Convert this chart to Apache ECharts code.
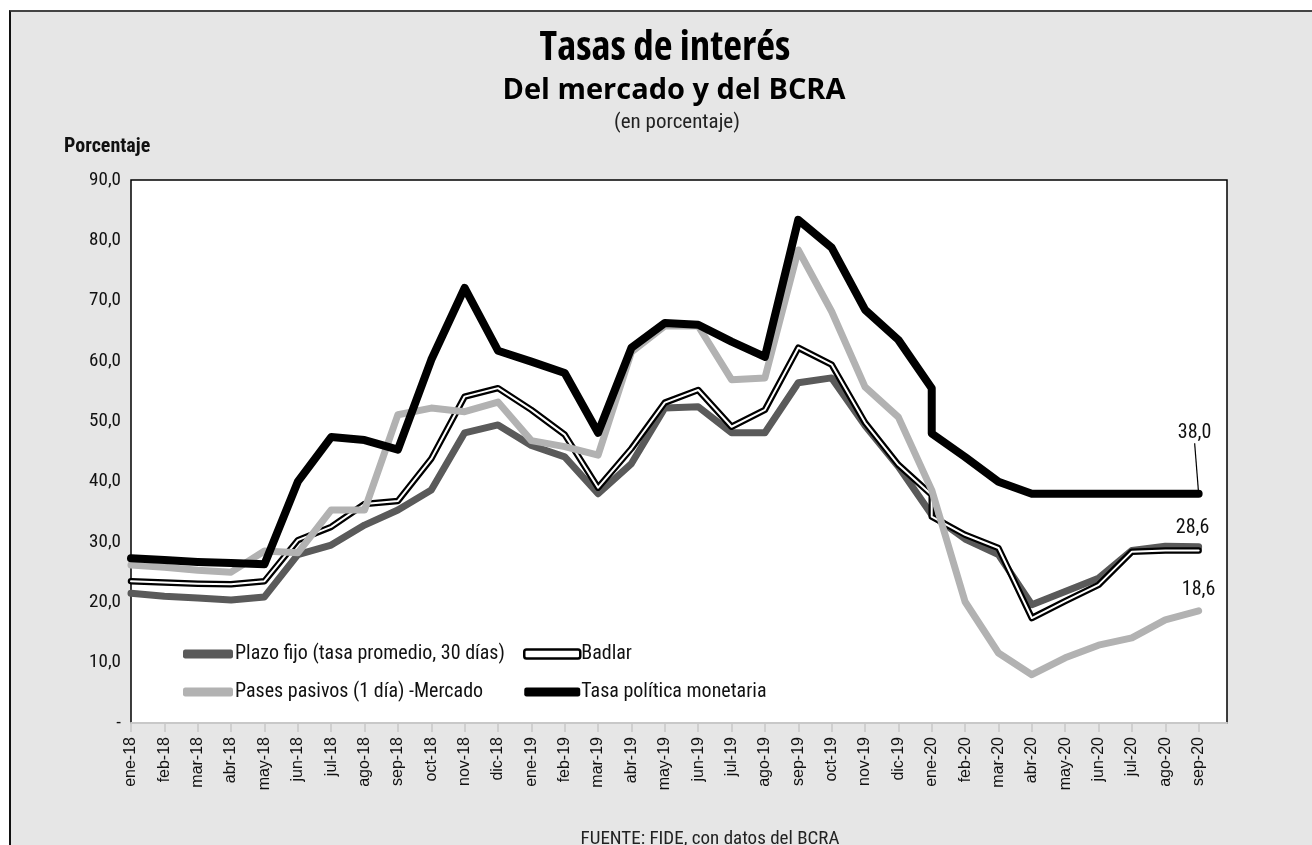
<!DOCTYPE html>
<html>
<head>
<meta charset="utf-8">
<script src="https://cdn.jsdelivr.net/npm/echarts@6/dist/echarts.min.js"></script>
<style>
html,body{margin:0;padding:0;background:#fff;width:1312px;height:845px;overflow:hidden;}
#panel{position:absolute;left:9px;top:10px;width:1303px;height:835px;background:#e6e6e6;border-top:2px solid #444;border-left:2px solid #111;}
#chart{position:absolute;left:0;top:0;width:1312px;height:845px;}
</style>
</head>
<body>
<div id="panel"></div>
<div id="chart"></div>
<script>
const months = ['ene-18','feb-18','mar-18','abr-18','may-18','jun-18','jul-18','ago-18','sep-18','oct-18','nov-18','dic-18',
  'ene-19','feb-19','mar-19','abr-19','may-19','jun-19','jul-19','ago-19','sep-19','oct-19','nov-19','dic-19',
  'ene-20','feb-20','mar-20','abr-20','may-20','jun-20','jul-20','ago-20','sep-20'];

const plazoFijo = [21.5,21.0,20.7,20.4,20.9,27.9,29.5,32.8,35.3,38.6,48.1,49.4,
  46.0,44.1,38.0,43.0,52.2,52.4,48.1,48.1,56.4,57.2,49.3,42.5,
  34.5,30.5,27.9,19.6,21.8,24.0,28.6,29.3,29.2];

const badlar = [23.5,23.3,23.1,23.0,23.5,30.3,32.5,36.3,36.8,43.8,54.1,55.5,
  51.9,47.8,39.0,45.5,53.1,55.2,49.1,51.9,62.2,59.4,49.8,42.8,
  34.2,31.2,29.0,17.4,20.2,22.9,28.4,28.6,28.6];
const badlarEne20Inicio = 37.8;

const pasesPasivos = [26.2,25.8,25.3,25.0,28.5,28.2,35.3,35.3,51.1,52.2,51.6,53.2,
  46.8,45.8,44.4,61.5,65.8,65.8,56.9,57.2,78.4,68.2,55.7,50.7,
  38.6,20.1,11.6,8.0,10.8,12.9,14.1,17.1,18.6];

const tasaPolitica = [27.3,27.0,26.7,26.5,26.3,40.0,47.4,46.9,45.3,60.2,72.1,61.7,
  59.9,58.0,48.1,62.2,66.3,66.0,63.2,60.7,83.4,78.8,68.5,63.5,
  48.0,44.1,40.0,38.0,38.0,38.0,38.0,38.0,38.0];
const tasaEne20Inicio = 55.5;

const ene20 = months.indexOf('ene-20');

const NARROW = '"Roboto Condensed","Liberation Sans",sans-serif';
const TITLE = '"Open Sans","DejaVu Sans",sans-serif';
const WIDE = '"Liberation Sans",Arial,sans-serif';

function fmt(v){ return v.toFixed(1).replace('.', ','); }

function build(values, extraAtEne20, lastLabel){
  const out = [];
  values.forEach((v, i) => {
    if (i === ene20 && extraAtEne20 !== undefined) out.push([i, extraAtEne20]);
    out.push([i, v]);
  });
  if (lastLabel) {
    const last = out[out.length - 1];
    out[out.length - 1] = {value: last, symbol: 'circle', symbolSize: 1, label: Object.assign({show: true}, lastLabel)};
  }
  return out;
}

const labelText = {fontFamily: NARROW, fontSize: 20, color: '#111', formatter: p => fmt(p.value[1])};

const chart = echarts.init(document.getElementById('chart'), null, {renderer: 'canvas'});
chart.setOption({
  backgroundColor: 'transparent',
  animation: false,
  title: [
    {text: 'Tasas de interés', left: 660, top: 23, textAlign: 'center',
     textStyle: {fontFamily: TITLE, fontStyle: 'condensed', fontWeight: 'bold', fontSize: 41, color: '#000'}},
    {text: 'Del mercado y del BCRA', left: 669, top: 71, textAlign: 'center',
     textStyle: {fontFamily: TITLE, fontWeight: 'bold', fontSize: 29, color: '#000'}},
    {text: '(en porcentaje)', left: 672, top: 107, textAlign: 'center',
     textStyle: {fontFamily: NARROW, fontWeight: 'normal', fontSize: 21, color: '#222'}},
    {text: 'Porcentaje', left: 59, top: 132,
     textStyle: {fontFamily: NARROW, fontWeight: 'bold', fontSize: 20, color: '#111'}},
    {text: 'FUENTE: FIDE, con datos del BCRA', left: 705, top: 825, textAlign: 'center',
     textStyle: {fontFamily: NARROW, fontWeight: 'normal', fontSize: 19, color: '#222'}}
  ],
  legend: [
    {orient: 'vertical', left: 178, top: 639, itemWidth: 50, itemHeight: 9, itemGap: 18,
     icon: 'roundRect', textStyle: {fontFamily: NARROW, fontSize: 20, color: '#111', padding: [0,0,0,-3]},
     data: [{name: 'Plazo fijo (tasa promedio, 30 días)', itemStyle: {color: '#5a5a5a'}},
            {name: 'Pases pasivos (1 día) -Mercado', itemStyle: {color: '#b2b2b2'}}]},
    {orient: 'vertical', left: 518, top: 639, itemWidth: 56, itemHeight: 9, itemGap: 18,
     icon: 'roundRect', textStyle: {fontFamily: NARROW, fontSize: 20, color: '#111', padding: [0,0,0,-4]},
     data: [{name: 'Badlar', itemStyle: {color: '#fff', borderColor: '#000', borderWidth: 2.5}},
            {name: 'Tasa política monetaria', itemStyle: {color: '#000'}}]}
  ],
  grid: {left: 131, right: 85, top: 180, bottom: 122, show: true, backgroundColor: '#fff', borderColor: '#000', borderWidth: 1.5},
  xAxis: {
    type: 'value', min: 0, max: 32.85,
    axisLine: {show: true, lineStyle: {color: '#c8c8c8', width: 2}},
    axisTick: {show: true, length: 9, lineStyle: {color: '#c8c8c8', width: 1.5}, customValues: months.map((m, i) => i)},
    axisLabel: {rotate: 90, margin: 14, fontFamily: WIDE, fontSize: 16, color: '#111',
      customValues: months.map((m, i) => i), formatter: v => months[v] || ''},
    splitLine: {show: false}
  },
  yAxis: {
    type: 'value', min: 0, max: 90, interval: 10,
    axisLine: {show: false}, axisTick: {show: false}, splitLine: {show: false},
    axisLabel: {margin: 10, fontFamily: NARROW, fontSize: 19, color: '#111',
      formatter: v => v === 0 ? '-' : fmt(v)}
  },
  series: [
    {name: 'Plazo fijo (tasa promedio, 30 días)', type: 'line', symbol: 'none', z: 2,
     lineStyle: {color: '#5a5a5a', width: 7, cap: 'round', join: 'round'}, itemStyle: {color: '#5a5a5a'},
     data: build(plazoFijo)},
    {name: 'Badlar', type: 'line', symbol: 'none', z: 3,
     lineStyle: {color: '#000', width: 6.5, cap: 'round', join: 'round'}, itemStyle: {color: '#000'},
     labelLayout: {dx: -6, dy: -6},
     data: build(badlar, badlarEne20Inicio, Object.assign({position: 'top', distance: 6}, labelText))},
    {name: 'Badlar interior', type: 'line', symbol: 'none', z: 4, silent: true,
     lineStyle: {color: '#fff', width: 2, cap: 'round', join: 'round'}, itemStyle: {color: '#fff'},
     data: build(badlar, badlarEne20Inicio)},
    {name: 'Pases pasivos (1 día) -Mercado', type: 'line', symbol: 'none', z: 5,
     lineStyle: {color: '#b2b2b2', width: 7, cap: 'round', join: 'round'}, itemStyle: {color: '#b2b2b2'},
     labelLayout: {dy: -4},
     data: build(pasesPasivos, undefined, Object.assign({position: 'top', distance: 6}, labelText))},
    {name: 'Tasa política monetaria', type: 'line', symbol: 'none', z: 6,
     lineStyle: {color: '#000', width: 8, cap: 'round', join: 'round'}, itemStyle: {color: '#000'},
     labelLayout: {dx: -4, dy: -44},
     labelLine: {show: true, lineStyle: {color: '#000', width: 1.2}},
     data: build(tasaPolitica, tasaEne20Inicio, Object.assign({position: 'top', distance: 6}, labelText))}
  ]
});
</script>
</body>
</html>
